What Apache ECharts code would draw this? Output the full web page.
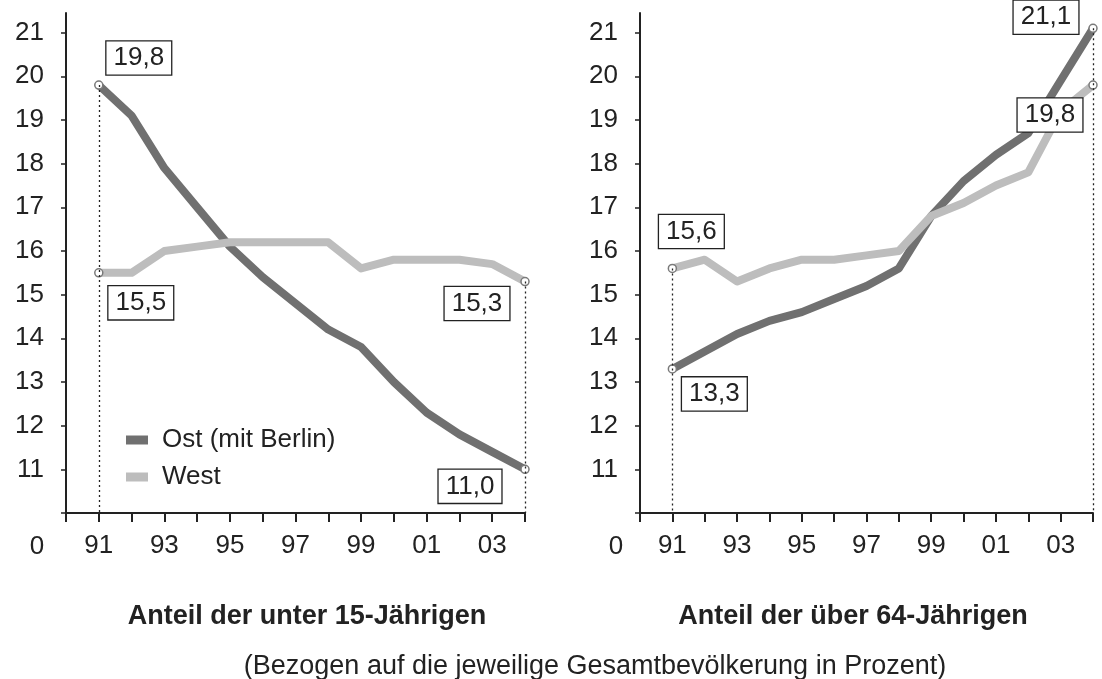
<!DOCTYPE html>
<html><head><meta charset="utf-8">
<script src="https://cdn.jsdelivr.net/npm/echarts@6/dist/echarts.min.js"></script>
<style>html,body{margin:0;padding:0;background:#fff}#c{width:1102px;height:679px}</style>
</head><body><div id="c"></div>
<script>
// ---- data ----
const years = [1991,1992,1993,1994,1995,1996,1997,1998,1999,2000,2001,2002,2003,2004];
const xTickLabels = ['91','93','95','97','99','01','03'];
const yTickLabels = ['11','12','13','14','15','16','17','18','19','20','21'];
const seriesNames = ['Ost (mit Berlin)', 'West'];
const ostUnder15  = [19.8,19.1,17.9,17.0,16.1,15.4,14.8,14.2,13.8,13.0,12.3,11.8,11.4,11.0];
const westUnder15 = [15.5,15.5,16.0,16.1,16.2,16.2,16.2,16.2,15.6,15.8,15.8,15.8,15.7,15.3];
const ostOver64   = [13.3,13.7,14.1,14.4,14.6,14.9,15.2,15.6,16.8,17.6,18.2,18.7,19.9,21.1];
const westOver64  = [15.6,15.8,15.3,15.6,15.8,15.8,15.9,16.0,16.8,17.1,17.5,17.8,19.2,19.8];
const titles = ['Anteil der unter 15-Jährigen', 'Anteil der über 64-Jährigen'];
const subtitle = '(Bezogen auf die jeweilige Gesamtbevölkerung in Prozent)';
const zeroLabel = '0';

// ---- style ----
const FONT = '"Liberation Sans", Arial, Helvetica, sans-serif';
const INK = '#222';
const DARK = '#707070', LIGHT = '#bdbdbd';
const Y_MIN = 10, Y_MAX = 21.45, X_MIN = 1990, X_MAX = 2004;

const toYear = s => (Number(s) > 50 ? 1900 : 2000) + Number(s);
const xTickValues = [X_MIN].concat(years);
const xLabelValues = xTickLabels.map(toYear);
const yLabelValues = yTickLabels.map(Number);
const yTickValues = [Y_MIN].concat(yLabelValues);
const fmt = v => v.toFixed(1).replace('.', ',');

function makeData(vals, offsets) {
  const last = vals.length - 1;
  return vals.map((v, i) => {
    const off = i === 0 ? offsets[0] : (i === last ? offsets[1] : null);
    if (!off) return { value: [years[i], v], symbol: 'none' };
    return {
      value: [years[i], v], symbol: 'circle', symbolSize: 8,
      label: { show: true, position: 'inside', offset: off, formatter: fmt(v) }
    };
  });
}

function lineSeries(name, vals, color, gridIdx, offsets, markLine) {
  const s = {
    type: 'line', name, xAxisIndex: gridIdx, yAxisIndex: gridIdx,
    data: makeData(vals, offsets), color,
    lineStyle: { color, width: 8, cap: 'round', join: 'round' },
    itemStyle: { color: '#fff', borderColor: '#7a7a7a', borderWidth: 1.5 },
    label: {
      show: false, fontFamily: FONT, fontSize: 26, color: INK,
      backgroundColor: '#fff', borderColor: INK, borderWidth: 1.3,
      padding: [4, 7, 2, 7], lineHeight: 27
    },
    emphasis: { disabled: true }, animation: false
  };
  if (markLine) s.markLine = markLine;
  return s;
}

function dropLines(a, b) {
  const last = years.length - 1;
  return {
    silent: true, symbol: ['none', 'none'], animation: false,
    label: { show: false },
    lineStyle: { color: INK, width: 1.3, type: [2, 3] },
    data: [
      [{ coord: [years[0], Math.max(a[0], b[0])] }, { coord: [years[0], Y_MIN] }],
      [{ coord: [years[last], Math.max(a[last], b[last])] }, { coord: [years[last], Y_MIN] }]
    ]
  };
}

function xAxis(gridIndex) {
  return {
    type: 'value', gridIndex, min: X_MIN, max: X_MAX, interval: 1,
    axisLine: { show: true, onZero: false, lineStyle: { color: INK, width: 2 } },
    axisTick: { show: true, length: 9, customValues: xTickValues, lineStyle: { color: INK, width: 2 } },
    axisLabel: { margin: 20, fontSize: 26, fontFamily: FONT, color: INK,
      customValues: xLabelValues, formatter: v => String(v).slice(2) },
    splitLine: { show: false }
  };
}
function yAxis(gridIndex) {
  return {
    type: 'value', gridIndex, min: Y_MIN, max: Y_MAX, interval: 1,
    axisLine: { show: true, onZero: false, lineStyle: { color: INK, width: 2 } },
    axisTick: { show: true, length: 5, customValues: yTickValues, lineStyle: { color: INK, width: 1.5 } },
    axisLabel: { margin: 22, fontSize: 26, fontFamily: FONT, color: INK,
      customValues: yLabelValues, formatter: v => String(v) },
    splitLine: { show: false }
  };
}

const option = {
  backgroundColor: '#fff',
  textStyle: { fontFamily: FONT },
  grid: [
    { left: 66, right: 577, top: 13, bottom: 166 },
    { left: 640, right: 9, top: 13, bottom: 166 }
  ],
  xAxis: [xAxis(0), xAxis(1)],
  yAxis: [yAxis(0), yAxis(1)],
  legend: {
    data: [
      { name: seriesNames[0], itemStyle: { color: DARK, borderWidth: 0 } },
      { name: seriesNames[1], itemStyle: { color: LIGHT, borderWidth: 0 } }
    ],
    orient: 'vertical', left: 121, top: 422,
    icon: 'rect', itemWidth: 22, itemHeight: 9, itemGap: 11,
    selectedMode: false,
    textStyle: { fontSize: 26, color: INK, fontFamily: FONT, padding: [0, 0, 0, 9] }
  },
  title: [
    { text: titles[0], left: 302, top: 597, textAlign: 'center',
      textStyle: { fontSize: 27, fontWeight: 'bold', color: INK, fontFamily: FONT, lineHeight: 30 } },
    { text: titles[1], left: 848, top: 597, textAlign: 'center',
      textStyle: { fontSize: 27, fontWeight: 'bold', color: INK, fontFamily: FONT, lineHeight: 30 } },
    { text: subtitle, left: 590, top: 647, textAlign: 'center',
      textStyle: { fontSize: 27, fontWeight: 'normal', color: INK, fontFamily: FONT, lineHeight: 30 } }
  ],
  graphic: [
    { type: 'text', x: 37, y: 547, style: { text: zeroLabel, fontSize: 26, fontFamily: FONT, fill: INK, align: 'center', verticalAlign: 'middle' } },
    { type: 'text', x: 616, y: 547, style: { text: zeroLabel, fontSize: 26, fontFamily: FONT, fill: INK, align: 'center', verticalAlign: 'middle' } }
  ],
  series: [
    lineSeries(seriesNames[0], ostUnder15, DARK, 0, [[40, -27], [-55, 17]], dropLines(ostUnder15, westUnder15)),
    lineSeries(seriesNames[1], westUnder15, LIGHT, 0, [[42, 30], [-48, 22]]),
    lineSeries(seriesNames[0], ostOver64, DARK, 1, [[42, 25], [-47, -11]], dropLines(ostOver64, westOver64)),
    lineSeries(seriesNames[1], westOver64, LIGHT, 1, [[19, -37], [-43, 30]])
  ]
};

const chart = echarts.init(document.getElementById('c'), null, { renderer: 'canvas' });
chart.setOption(option);
</script>
</body></html>
